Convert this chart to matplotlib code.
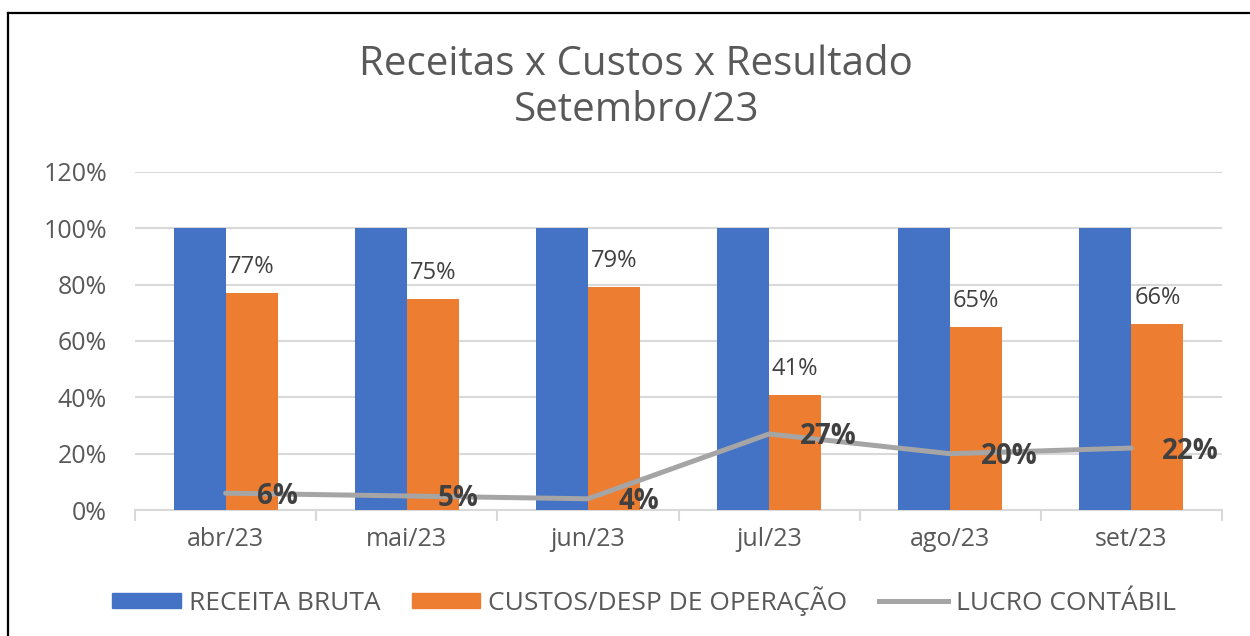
import matplotlib.pyplot as plt
import numpy as np
from matplotlib.lines import Line2D
from matplotlib.patches import Patch

plt.rcParams["font.family"] = ["Open Sans", "DejaVu Sans"]

meses = ["abr/23", "mai/23", "jun/23", "jul/23", "ago/23", "set/23"]
receita_bruta = [1.00, 1.00, 1.00, 1.00, 1.00, 1.00]
custos_operacao = [0.77, 0.75, 0.79, 0.41, 0.65, 0.66]
lucro_contabil = [0.06, 0.05, 0.04, 0.27, 0.20, 0.22]

BLUE = "#4472c4"
ORANGE = "#ed7d31"
GRAY = "#a5a5a5"
TEXT = "#595959"
DARK = "#404040"
GRID = "#d9d9d9"

fig = plt.figure(figsize=(12.5, 6.36), dpi=100)
ax = fig.add_axes([0.108, 0.198, 0.8696, 0.5318])

x = np.arange(len(meses))
w = 0.287
ax.bar(x - w / 2, receita_bruta, w, color=BLUE, zorder=2)
ax.bar(x + w / 2, custos_operacao, w, color=ORANGE, zorder=2)
ax.plot(x, lucro_contabil, color=GRAY, lw=3.6, zorder=3, solid_capstyle="round")

for xi, v in zip(x, custos_operacao):
    ax.annotate(f"{v:.0%}", (xi + w / 2, v), xytext=(0, 26), textcoords="offset pixels",
                ha="center", va="center", fontsize=17, color=DARK, zorder=4)
for xi, v in zip(x, lucro_contabil):
    ax.annotate(f"{v:.0%}", (xi, v), xytext=(31, -3), textcoords="offset pixels",
                ha="left", va="center", fontsize=20, fontweight="bold", color=DARK, zorder=4)

ax.set_xlim(-0.5, len(meses) - 0.5)
ax.set_ylim(0, 1.2)
ax.set_yticks(np.arange(0, 1.21, 0.2))
ax.set_yticklabels([f"{t:.0%}" for t in np.arange(0, 1.21, 0.2)])
ax.set_xticks(x)
ax.set_xticklabels(meses)
ax.set_xticks(np.arange(-0.5, len(meses)), minor=True)
ax.tick_params(axis="x", which="major", length=0, pad=12, labelsize=18, labelcolor=TEXT)
ax.tick_params(axis="x", which="minor", length=8, width=1.5, color=GRID)
ax.tick_params(axis="y", length=0, pad=20, labelsize=18, labelcolor=TEXT)
ax.grid(axis="y", color=GRID, lw=1.5, zorder=0)
for s in ["top", "right", "left"]:
    ax.spines[s].set_visible(False)
ax.spines["bottom"].set_color(GRID)
ax.spines["bottom"].set_linewidth(1.5)
ax.spines["bottom"].set_zorder(1)

fig.text(0.509, 1 - 65 / 636, "Receitas x Custos x Resultado", ha="center", va="center",
         fontsize=29, color=TEXT)
fig.text(0.509, 1 - 111 / 636, "Setembro/23", ha="center", va="center",
         fontsize=29, color=TEXT)

handles = [Patch(color=BLUE), Patch(color=ORANGE), Line2D([], [], color=GRAY, lw=3.6)]
labels = ["RECEITA BRUTA", "CUSTOS/DESP DE OPERAÇÃO", "LUCRO CONTÁBIL"]
fig.legend(handles, labels, loc="center", bbox_to_anchor=(0.515, 1 - 601 / 636), ncol=3,
           frameon=False, fontsize=19, labelcolor=TEXT, handlelength=2.6, handleheight=0.5,
           handletextpad=0.3, columnspacing=1.2)

# moldura do gráfico
fig.add_artist(Line2D([8 / 1250, 8 / 1250], [0, 1 - 13 / 636], color="black", lw=1.6))
fig.add_artist(Line2D([8 / 1250, 1], [1 - 13 / 636, 1 - 13 / 636], color="black", lw=1.6))

fig.savefig("out.png", dpi=100)
